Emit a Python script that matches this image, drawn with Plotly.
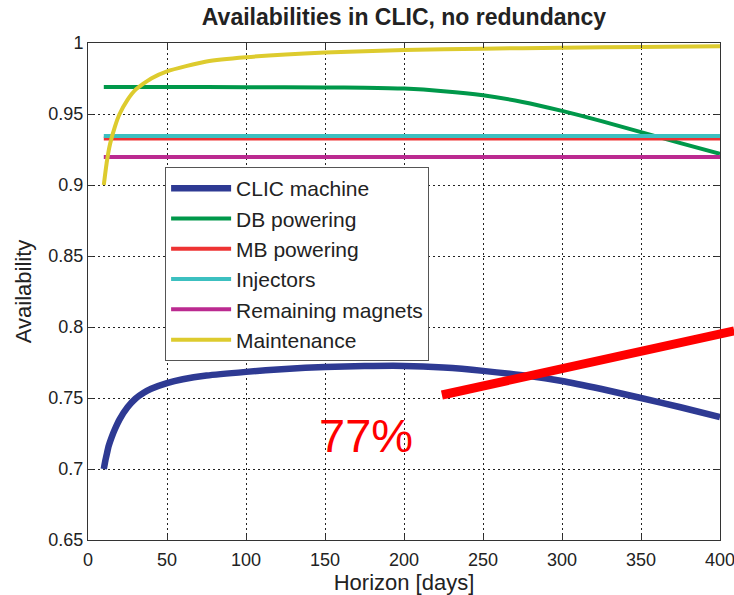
import plotly.graph_objects as go

# ---------------- data ----------------
x_maint = [10, 12, 14, 17, 20, 25, 30, 40, 50, 75, 100, 150, 200, 250, 300, 350, 400]
y_maint = [0.900, 0.917, 0.929, 0.941, 0.950, 0.960, 0.967, 0.975, 0.980, 0.987,
           0.990, 0.9933, 0.995, 0.996, 0.9967, 0.9972, 0.9977]

x_clic = [10, 11, 12, 13, 15, 17, 20, 25, 30, 35, 40, 50, 60, 75, 100, 125, 150,
          175, 200, 225, 250, 275, 300, 325, 350, 375, 400]
y_clic = [0.700, 0.706, 0.711, 0.716, 0.7225, 0.728, 0.735, 0.7435, 0.7495, 0.7535,
          0.7565, 0.7605, 0.7632, 0.7658, 0.7684, 0.7705, 0.7719, 0.7725, 0.7726,
          0.7714, 0.7691, 0.7660, 0.7620, 0.7563, 0.7500, 0.7435, 0.7366]

x_db = [10, 50, 100, 150, 175, 200, 225, 250, 275, 300, 325, 350, 375, 400]
y_db = [0.969, 0.969, 0.9689, 0.9687, 0.9685, 0.9679, 0.9661, 0.9632, 0.9585,
        0.9522, 0.9450, 0.9372, 0.9295, 0.9220]

x_flat = [10, 400]
y_mb = [0.9327, 0.9327]
y_inj = [0.9345, 0.9345]
y_rem = [0.9198, 0.9198]

# annotation line (days, availability) and label
ann_x = [224, 409]
ann_y = [0.7521, 0.7973]
ann_text = "77%"
ann_text_pos = (176, 0.7239)

x_range = [0, 400]
y_range = [0.65, 1.0]
x_ticks = [0, 50, 100, 150, 200, 250, 300, 350, 400]
y_ticks = [0.65, 0.7, 0.75, 0.8, 0.85, 0.9, 0.95, 1.0]
y_ticklabels = ["0.65", "0.7", "0.75", "0.8", "0.85", "0.9", "0.95", "1"]

# ---------------- figure ----------------
C_BLUE = "#2E3A93"
C_GREEN = "#00984A"
C_RED = "#EE3333"
C_CYAN = "#3CC0C0"
C_MAG = "#BB2A90"
C_YEL = "#DDCB2E"

fig = go.Figure()
fig.add_trace(go.Scatter(x=x_clic, y=y_clic, mode="lines", name="CLIC machine",
                         line=dict(color=C_BLUE, width=6.5, shape="spline", smoothing=0.6)))
fig.add_trace(go.Scatter(x=x_db, y=y_db, mode="lines", name="DB powering",
                         line=dict(color=C_GREEN, width=4, shape="spline", smoothing=0.6)))
fig.add_trace(go.Scatter(x=x_flat, y=y_mb, mode="lines", name="MB powering",
                         line=dict(color=C_RED, width=4)))
fig.add_trace(go.Scatter(x=x_flat, y=y_inj, mode="lines", name="Injectors",
                         line=dict(color=C_CYAN, width=4)))
fig.add_trace(go.Scatter(x=x_flat, y=y_rem, mode="lines", name="Remaining magnets",
                         line=dict(color=C_MAG, width=4)))
fig.add_trace(go.Scatter(x=x_maint, y=y_maint, mode="lines", name="Maintenance",
                         line=dict(color=C_YEL, width=4, shape="spline", smoothing=0.6)))

# red annotation line, in axis-domain coordinates so it is not clipped
def fx(v):
    return (v - x_range[0]) / (x_range[1] - x_range[0])

def fy(v):
    return (v - y_range[0]) / (y_range[1] - y_range[0])

fig.add_shape(type="line", xref="x domain", yref="y domain",
              x0=fx(ann_x[0]), y0=fy(ann_y[0]), x1=fx(ann_x[1]), y1=fy(ann_y[1]),
              line=dict(color="#FF0000", width=9))
fig.add_annotation(x=ann_text_pos[0], y=ann_text_pos[1], xref="x", yref="y",
                   text=ann_text, showarrow=False,
                   font=dict(family="Liberation Sans, Arial", size=47, color="#FF0000"))

font_family = "Liberation Sans, Arial, Helvetica"
axis_common = dict(
    showline=True, linecolor="#333333", linewidth=1, mirror="ticks",
    ticks="inside", ticklen=5, tickcolor="#333333",
    showgrid=True, gridcolor="#222222", gridwidth=1, griddash="2px,3px",
    zeroline=False, ticklabeloverflow="allow", automargin=False,
    tickfont=dict(family=font_family, size=18, color="#222222"),
)

fig.update_layout(
    width=734, height=595,
    margin=dict(l=88, r=14, t=43, b=55),
    paper_bgcolor="white", plot_bgcolor="white",
    title=dict(text="<b>Availabilities in CLIC, no redundancy</b>",
               x=0.5504, xanchor="center", y=0.971, yanchor="middle",
               font=dict(family=font_family, size=23, color="#222222")),
    xaxis=dict(range=x_range, tickvals=x_ticks, ticklabelstandoff=3, **axis_common,
               title=dict(text="Horizon [days]", standoff=2,
                          font=dict(family=font_family, size=22, color="#222222"))),
    yaxis=dict(range=y_range, tickvals=y_ticks, ticktext=y_ticklabels,
               ticklabelstandoff=0, **axis_common,
               title=dict(text="Availability", standoff=10,
                          font=dict(family=font_family, size=22, color="#222222"))),
    showlegend=True,
    legend=dict(x=0.122, y=0.7505, xanchor="left", yanchor="top",
                bgcolor="white", bordercolor="#555555", borderwidth=1,
                itemwidth=60, tracegroupgap=0,
                font=dict(family=font_family, size=21, color="#222222")),
)

fig.write_html("out.html")
